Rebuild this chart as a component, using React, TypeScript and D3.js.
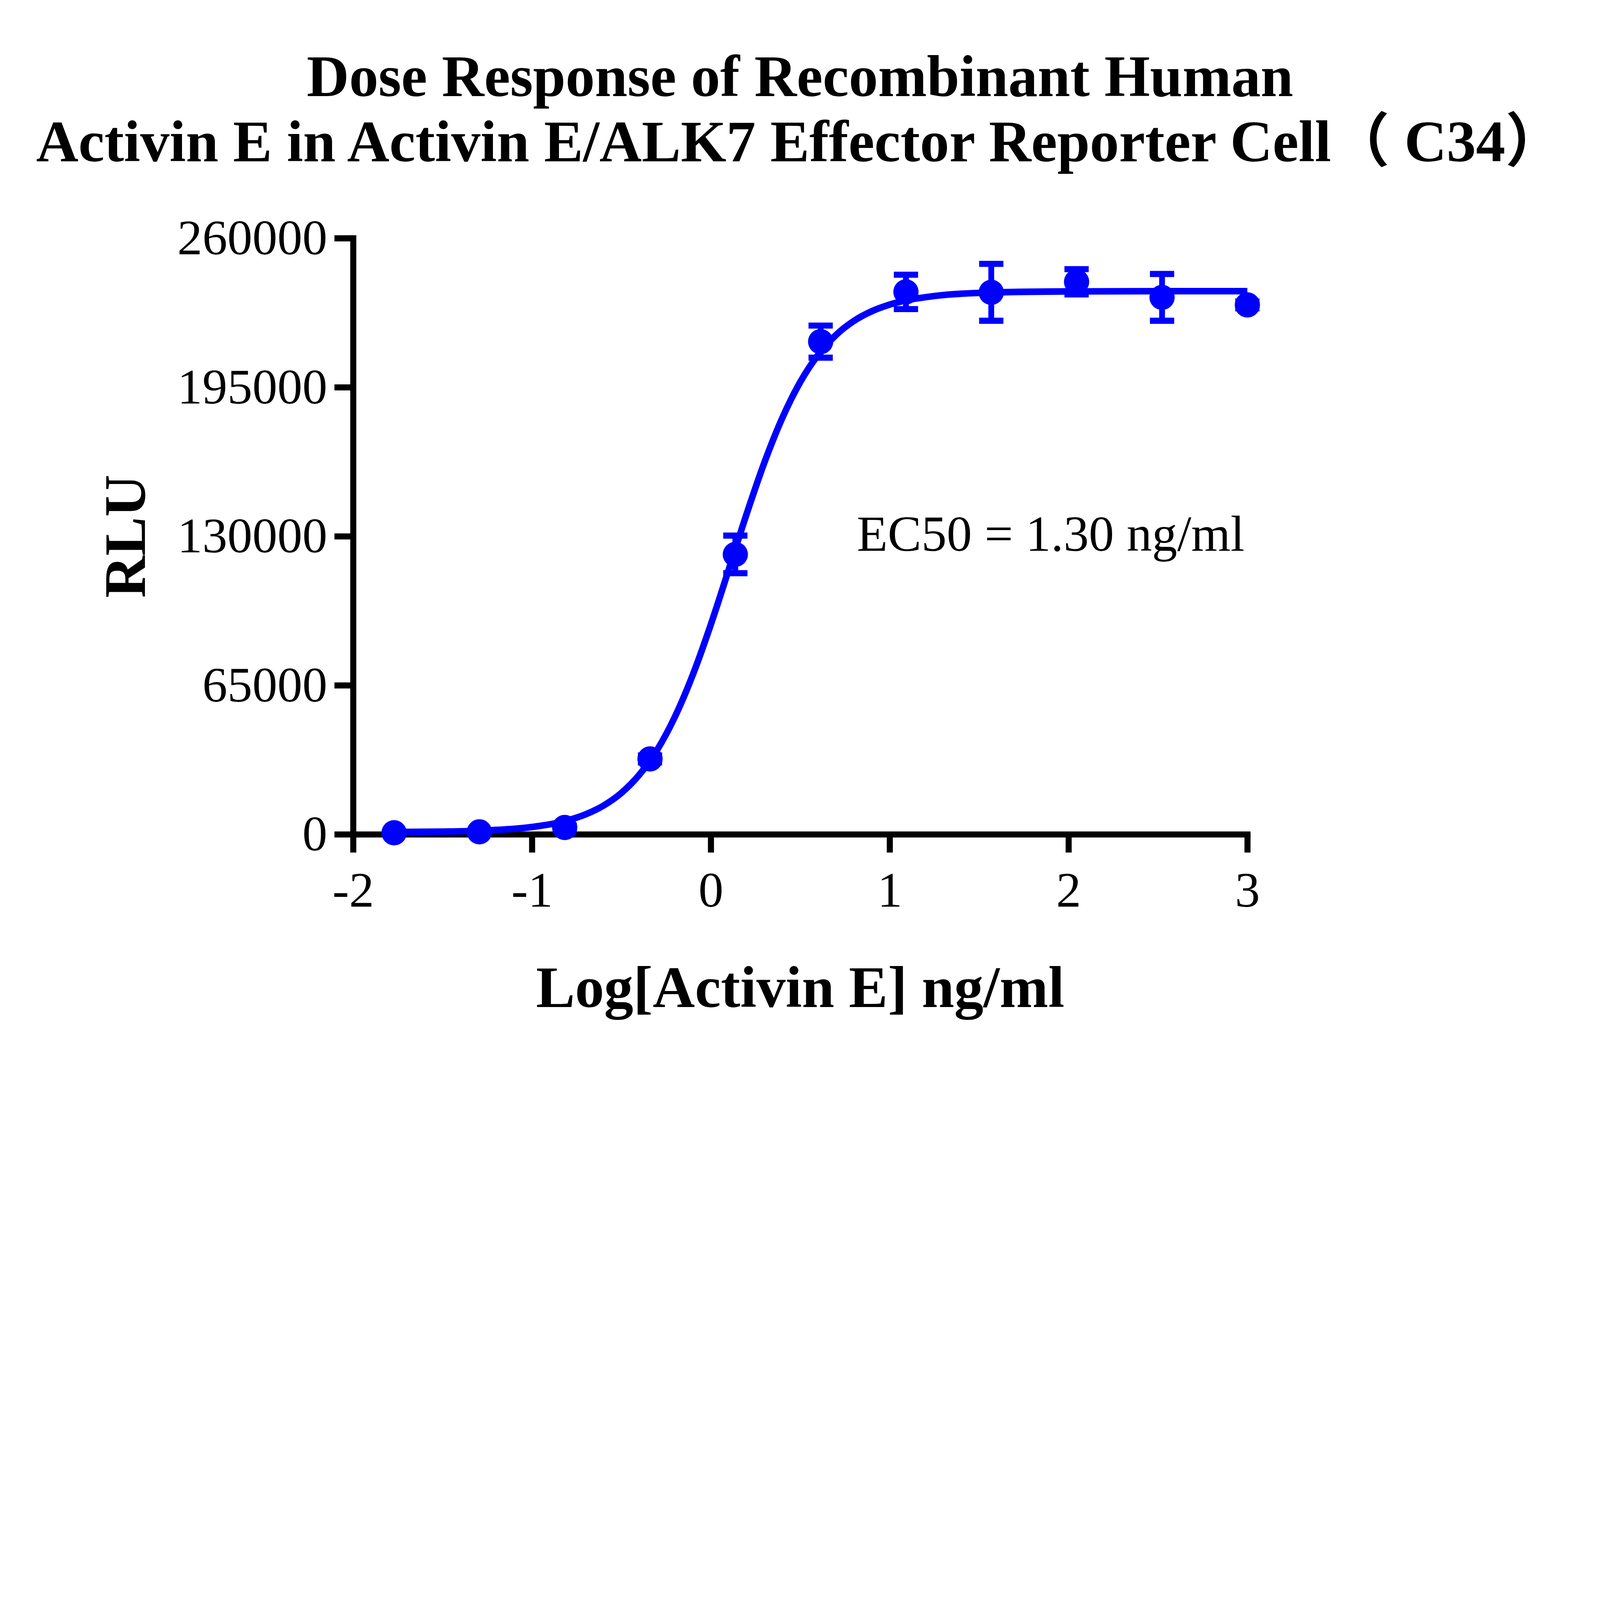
import React, { useEffect, useRef } from 'react';
import * as d3 from 'd3';

// measured points (log10 ng/ml, RLU mean, SD)
const logDose = [-1.771, -1.294, -0.817, -0.34, 0.137, 0.614, 1.091, 1.568, 2.045, 2.523, 3.0];
const meanRLU = [700, 1100, 3000, 32900, 122100, 214900, 236600, 236400, 241000, 234200, 230900];
const sdRLU = [300, 400, 800, 1500, 8200, 7000, 7500, 12400, 5500, 10200, 1500];

// fitted curve
const curveX = [
  -1.771, -1.5, -1.25, -1.0, -0.8, -0.7, -0.6, -0.5, -0.4, -0.3, -0.2, -0.1, 0, 0.1, 0.2, 0.3, 0.4,
  0.5, 0.6, 0.7, 0.8, 0.9, 1.0, 1.25, 1.5, 2.0, 2.5, 3.0,
];
const curveY = [
  1000, 1190, 1730, 3210, 6120, 8720, 12540, 18070, 25980, 36860, 51400, 69760, 91530, 115460,
  139720, 162280, 181670, 197270, 209120, 217790, 223920, 228150, 231050, 234790, 236150, 236800,
  236900, 236900,
];

const xTicks = [-2, -1, 0, 1, 2, 3];
const yTicks = [0, 65000, 130000, 195000, 260000];

const titleLines = [
  'Dose Response of Recombinant Human',
  'Activin E in Activin E/ALK7 Effector Reporter Cell（ C34）',
];
const xLabel = 'Log[Activin E] ng/ml';
const yLabel = 'RLU';
const ec50Label = 'EC50 = 1.30 ng/ml';

const W = 6334;
const H = 4204;
const BLUE = '#0000ff';
const FONT = '"Liberation Serif", "Times New Roman", "Noto Sans CJK SC", serif';

const App = () => {
  const ref = useRef<SVGSVGElement>(null);

  useEffect(() => {
    if (!ref.current) return;
    const svg = d3.select(ref.current);
    svg.selectAll('*').remove();

    const x = d3.scaleLinear().domain([-2, 3]).range([1398, 4938]);
    const y = d3.scaleLinear().domain([0, 260000]).range([3303, 943]);

    titleLines.forEach((t, i) => {
      svg
        .append('text')
        .attr('font-family', FONT)
        .attr('font-weight', 'bold')
        .attr('font-size', 232)
        .attr('text-anchor', 'middle')
        .attr('x', W / 2)
        .attr('y', 380 + i * 258)
        .text(t);
    });

    const styleAxis = (g: d3.Selection<SVGGElement, unknown, null, undefined>) => {
      g.attr('font-family', FONT).attr('font-size', 198);
      g.selectAll('line').attr('stroke', '#000').attr('stroke-width', 24);
      g.select('.domain')
        .attr('stroke', '#000')
        .attr('stroke-width', 24)
        .attr('stroke-linecap', 'square');
      g.selectAll('text').attr('fill', '#000');
    };

    svg
      .append('g')
      .attr('transform', `translate(${x(-2)},0)`)
      .call(
        d3
          .axisLeft(y)
          .tickValues(yTicks)
          .tickSize(74)
          .tickSizeOuter(0)
          .tickPadding(28)
          .tickFormat((d) => String(d)),
      )
      .call(styleAxis);

    svg
      .append('g')
      .attr('transform', `translate(0,${y(0)})`)
      .call(
        d3
          .axisBottom(x)
          .tickValues(xTicks)
          .tickSize(72)
          .tickSizeOuter(0)
          .tickPadding(74)
          .tickFormat((d) => String(d)),
      )
      .call(styleAxis);

    svg
      .append('text')
      .attr('font-family', FONT)
      .attr('font-weight', 'bold')
      .attr('font-size', 231)
      .attr('text-anchor', 'middle')
      .attr('x', (x(-2) + x(3)) / 2)
      .attr('y', 3986)
      .text(xLabel);

    svg
      .append('text')
      .attr('font-family', FONT)
      .attr('font-weight', 'bold')
      .attr('font-size', 231)
      .attr('text-anchor', 'middle')
      .attr('transform', `translate(573,${(y(0) + y(260000)) / 2}) rotate(-90)`)
      .text(yLabel);

    const line = d3
      .line<number>()
      .x((d) => x(d))
      .y((_, i) => y(curveY[i]))
      .curve(d3.curveMonotoneX);

    svg
      .append('path')
      .datum(curveX)
      .attr('d', line)
      .attr('fill', 'none')
      .attr('stroke', BLUE)
      .attr('stroke-width', 26);

    const pts = logDose.map((d, i) => ({ x: d, m: meanRLU[i], s: sdRLU[i] }));

    const err = svg.append('g').attr('stroke', BLUE);
    err
      .selectAll('line.v')
      .data(pts)
      .join('line')
      .attr('class', 'v')
      .attr('stroke-width', 23)
      .attr('x1', (d) => x(d.x))
      .attr('x2', (d) => x(d.x))
      .attr('y1', (d) => y(d.m + d.s))
      .attr('y2', (d) => y(d.m - d.s));
    [1, -1].forEach((sign) => {
      err
        .append('g')
        .selectAll('line')
        .data(pts)
        .join('line')
        .attr('stroke-width', 24)
        .attr('x1', (d) => x(d.x) - 48)
        .attr('x2', (d) => x(d.x) + 48)
        .attr('y1', (d) => y(d.m + sign * d.s))
        .attr('y2', (d) => y(d.m + sign * d.s));
    });

    svg
      .append('g')
      .attr('fill', BLUE)
      .selectAll('circle')
      .data(pts)
      .join('circle')
      .attr('cx', (d) => x(d.x))
      .attr('cy', (d) => y(d.m))
      .attr('r', 50);

    svg
      .append('text')
      .attr('font-family', FONT)
      .attr('font-size', 200)
      .attr('x', 3392)
      .attr('y', 2181)
      .text(ec50Label);
  }, []);

  // the browser window is capped below the requested size, so scale to its width
  return (
    <svg
      ref={ref}
      viewBox={`0 0 ${W} ${H}`}
      preserveAspectRatio="xMidYMin meet"
      style={{
        position: 'fixed',
        left: 0,
        top: 0,
        width: '100vw',
        height: '100vh',
        background: '#fff',
      }}
    />
  );
};

export default App;
